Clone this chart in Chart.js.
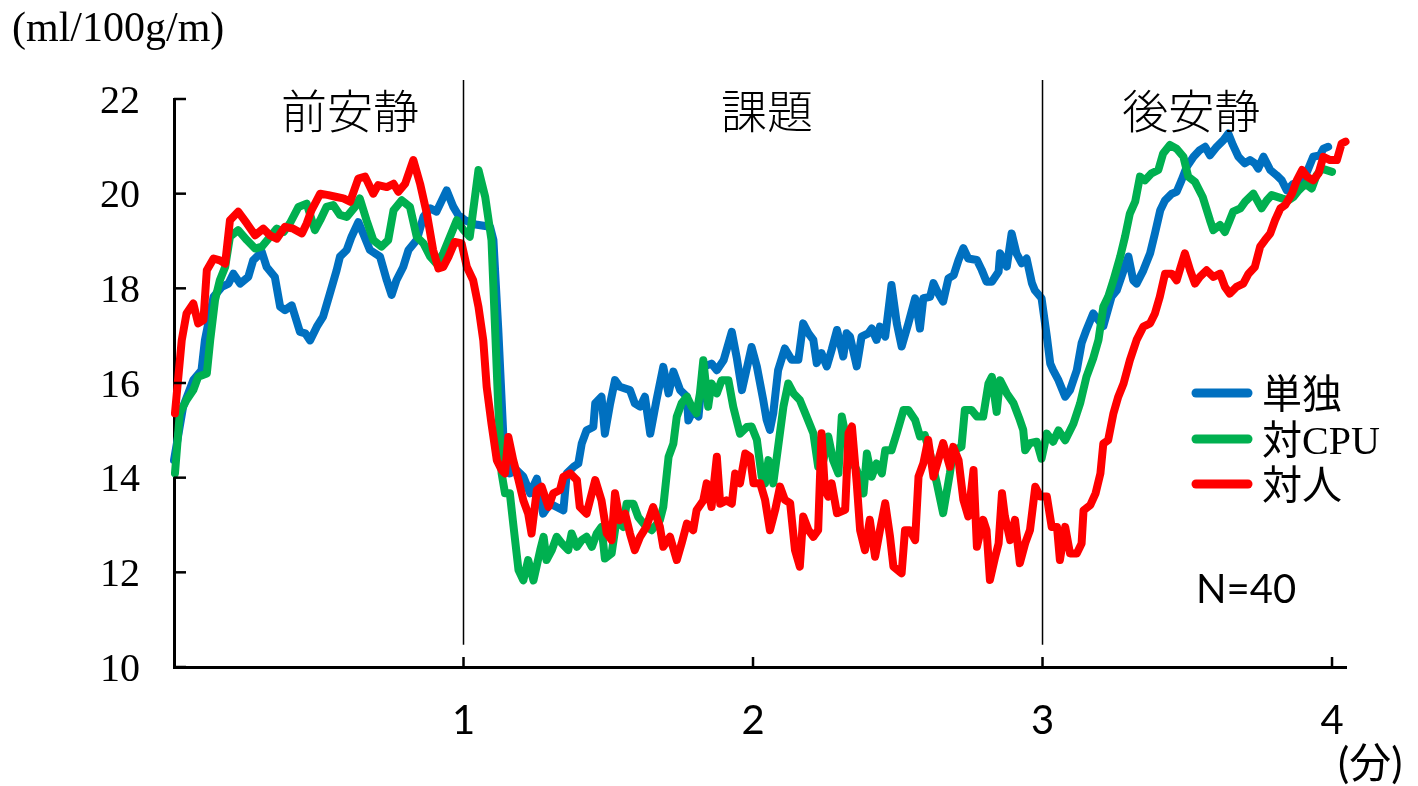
<!DOCTYPE html>
<html lang="ja">
<head>
<meta charset="UTF-8">
<title>血流量の推移</title>
<script src="https://cdn.jsdelivr.net/npm/chart.js@4"></script>
<style>
  body { margin: 0; background: #fff; }
  canvas { display: block; }
</style>
</head>
<body>
<canvas id="flowChart" width="1418" height="786"></canvas>
<script>
// [経過秒, ml/100g/m]
const soloPts = [[0,14.37],[1.9,15.50],[4.0,16.06],[5.7,16.27],[6.4,16.90],[8.2,17.82],[9.9,18.03],[11.3,18.10],[12.3,18.31],[13.7,18.10],[15.4,18.24],[16.4,18.59],[18.2,18.77],[19.2,18.45],[20.9,18.24],[22.0,17.61],[23.0,17.54],[24.4,17.64],[26.1,17.08],[27.2,17.05],[28.2,16.90],[29.6,17.19],[30.9,17.40],[32.3,17.89],[33.7,18.38],[34.4,18.67],[35.8,18.81],[36.8,19.09],[38.2,19.40],[39.2,19.16],[40.6,18.81],[42.7,18.67],[44.1,18.17],[45.1,17.86],[46.1,18.17],[47.5,18.45],[48.6,18.81],[50.3,19.02],[51.7,19.51],[53.1,19.69],[54.4,19.62],[56.5,20.07],[57.9,19.72],[58.9,19.55],[60.3,19.44],[62.5,19.35],[65.5,19.30],[66.2,19.02],[67.2,17.15],[68.3,14.79],[69.6,14.09],[71.0,14.16],[72.4,14.02],[73.8,13.67],[75.2,13.98],[76.5,13.24],[77.9,13.45],[79.3,13.38],[80.7,13.31],[81.4,14.09],[82.8,14.23],[83.8,14.30],[84.5,14.72],[85.5,15.00],[86.9,15.07],[87.3,15.57],[88.6,15.71],[89.3,14.93],[90.4,15.57],[91.4,16.06],[92.4,15.92],[94.5,15.85],[95.5,15.57],[96.6,15.50],[97.6,15.71],[98.7,14.93],[100.0,15.64],[101.4,16.34],[102.5,15.78],[103.5,16.24],[104.9,15.85],[106.3,15.71],[106.6,15.21],[107.6,15.43],[108.7,15.29],[109.7,16.34],[111.4,16.41],[112.5,16.27],[113.9,16.48],[115.6,17.08],[116.6,16.55],[117.7,15.85],[119.7,16.76],[120.8,16.35],[122.1,15.65],[122.8,15.23],[123.5,15.01],[124.2,15.36],[125.2,16.27],[126.6,16.73],[128.0,16.49],[129.4,16.49],[130.4,17.26],[131.5,17.05],[132.5,16.91],[133.2,16.42],[134.2,16.63],[135.3,16.35],[136.3,16.70],[137.4,17.12],[138.7,16.56],[139.4,17.05],[140.1,16.98],[141.5,16.35],[142.5,16.98],[143.9,17.05],[144.6,17.15],[145.6,16.91],[146.3,17.19],[147.4,16.98],[148.7,18.07],[149.8,17.26],[150.8,16.77],[152.2,17.26],[153.6,17.79],[154.6,17.15],[155.3,17.79],[156.7,17.82],[157.4,18.11],[158.4,17.89],[159.4,17.72],[160.5,18.21],[161.6,18.28],[162.6,18.60],[163.6,18.85],[164.6,18.63],[166.4,18.60],[167.4,18.39],[168.4,18.14],[169.5,18.14],[170.9,18.35],[171.2,18.74],[172.6,18.46],[173.6,19.16],[174.6,18.74],[175.7,18.53],[176.7,18.63],[177.8,18.11],[178.4,17.96],[179.8,17.79],[180.9,16.98],[181.6,16.41],[182.2,16.27],[183.3,16.06],[184.7,15.71],[185.7,15.85],[187.1,16.27],[188.1,16.84],[189.1,17.12],[190.5,17.47],[192.6,17.20],[194.3,17.82],[195.4,17.96],[196.8,18.38],[197.8,18.67],[198.8,18.17],[199.5,18.10],[200.9,18.38],[202.3,18.74],[203.3,19.16],[204.4,19.65],[205.4,19.86],[206.8,20.00],[207.8,20.04],[208.8,20.28],[209.9,20.57],[211.3,20.78],[212.6,20.92],[213.7,20.99],[214.7,20.81],[216.1,20.99],[217.5,21.13],[218.5,21.27],[219.5,21.02],[220.6,20.78],[221.9,20.64],[223.0,20.71],[224.0,20.64],[224.7,20.53],[225.8,20.78],[227.2,20.50],[228.5,20.39],[229.6,20.28],[230.6,20.07],[232.0,20.21],[233.4,20.25],[234.7,20.43],[236.1,20.78],[237.5,20.81],[238.2,20.95],[239.2,20.99]];

const cpuPts = [[0.2,14.09],[1.2,15.36],[2.6,15.64],[4.0,15.85],[5.0,16.13],[6.8,16.20],[7.5,16.90],[8.5,17.75],[9.5,18.17],[10.6,18.45],[11.6,19.09],[13.3,19.23],[15.1,19.02],[16.8,18.84],[18.2,18.88],[19.9,19.09],[21.3,19.26],[22.7,19.19],[24.0,19.37],[25.8,19.72],[27.5,19.79],[29.2,19.23],[30.3,19.44],[31.6,19.72],[33.0,19.76],[34.4,19.55],[35.8,19.51],[37.5,19.72],[38.5,19.90],[39.9,19.44],[41.3,19.02],[43.0,18.88],[44.4,19.02],[45.5,19.65],[47.2,19.86],[48.9,19.72],[50.3,19.09],[51.7,18.95],[53.1,18.67],[54.4,18.52],[55.8,18.74],[57.2,19.09],[58.6,19.44],[60.0,19.23],[61.3,19.09],[63.1,20.50],[64.5,19.93],[65.8,19.02],[66.5,17.26],[67.2,15.50],[67.9,14.09],[68.6,13.67],[69.6,13.67],[70.3,13.03],[71.4,12.05],[72.4,11.83],[73.4,12.26],[74.5,11.83],[75.9,12.47],[76.6,12.75],[77.2,12.26],[78.3,12.47],[79.3,12.75],[80.4,12.61],[81.7,12.47],[82.4,12.82],[83.5,12.54],[84.5,12.68],[85.5,12.75],[86.6,12.54],[87.6,12.82],[88.6,12.96],[89.3,12.29],[90.7,12.40],[91.7,13.10],[93.1,12.96],[93.8,13.45],[95.2,13.45],[96.2,13.17],[97.3,13.03],[99.0,12.89],[100.7,13.10],[101.4,13.38],[102.5,14.44],[103.5,14.72],[104.2,15.29],[105.2,15.57],[106.3,15.71],[107.3,15.50],[108.3,15.36],[109.0,15.78],[109.7,16.48],[110.7,15.50],[111.4,15.99],[112.5,15.78],[113.5,16.06],[114.9,16.06],[115.9,15.50],[117.3,14.93],[118.7,15.07],[119.7,15.08],[120.8,14.80],[121.8,14.02],[122.5,13.88],[123.2,14.37],[124.2,13.88],[125.2,14.65],[126.3,15.50],[127.3,15.99],[128.4,15.78],[129.7,15.64],[131.1,15.29],[132.5,14.94],[133.5,14.23],[134.6,14.37],[135.6,14.87],[136.6,14.37],[137.7,14.09],[138.4,15.29],[139.1,14.94],[140.4,14.37],[141.5,14.16],[142.9,13.67],[143.6,14.51],[144.6,14.02],[145.6,14.30],[146.7,14.09],[147.4,14.58],[148.7,14.58],[149.8,14.94],[151.2,15.43],[152.2,15.43],[153.6,15.22],[154.6,14.87],[155.6,14.90],[156.7,14.51],[158.1,13.88],[159.4,13.25],[160.8,14.09],[161.5,14.58],[163.2,14.65],[163.9,15.43],[165.3,15.43],[166.4,15.29],[167.7,15.29],[168.8,15.99],[169.5,16.13],[170.5,15.39],[171.2,16.06],[172.6,15.78],[174.0,15.57],[175.3,15.22],[176.0,15.01],[176.4,14.58],[177.4,14.73],[178.8,14.76],[179.8,14.40],[180.9,14.93],[182.2,14.76],[183.3,15.00],[184.7,14.79],[186.4,15.14],[187.8,15.57],[189.1,16.13],[190.5,16.52],[191.6,16.91],[192.6,17.61],[193.6,17.82],[194.7,18.17],[196.1,18.67],[197.1,19.09],[198.1,19.58],[199.2,19.83],[200.2,20.36],[201.2,20.28],[202.6,20.43],[204.0,20.50],[205.0,20.85],[206.4,21.03],[207.8,20.95],[209.2,20.78],[210.2,20.36],[211.6,20.25],[213.2,19.93],[214.7,19.44],[215.4,19.23],[216.8,19.34],[217.8,19.19],[218.8,19.44],[219.5,19.62],[221.0,19.69],[222.0,19.83],[223.7,20.00],[225.4,19.69],[226.5,19.86],[227.5,19.97],[229.6,19.90],[231.0,19.86],[232.0,19.93],[233.1,20.07],[234.5,20.21],[235.8,20.11],[236.8,20.39],[237.9,20.53],[240.0,20.46]];

const humanPts = [[0.2,15.36],[1.6,16.90],[2.6,17.47],[4.0,17.68],[5.0,17.26],[6.1,17.33],[6.8,18.38],[8.2,18.63],[9.5,18.59],[10.6,18.52],[11.6,19.44],[13.3,19.62],[15.1,19.37],[16.8,19.12],[18.5,19.26],[19.9,19.12],[21.3,19.05],[23.0,19.30],[24.7,19.26],[26.5,19.16],[27.5,19.37],[28.5,19.65],[30.3,20.00],[32.0,19.97],[33.7,19.93],[35.1,19.90],[36.5,19.83],[38.2,20.32],[39.6,20.36],[41.3,20.00],[42.3,20.18],[44.1,20.14],[45.5,20.21],[46.5,20.04],[47.9,20.21],[49.6,20.71],[51.0,20.21],[52.4,19.58],[53.7,18.81],[54.8,18.42],[55.8,18.45],[56.9,18.67],[58.2,18.98],[59.6,18.95],[60.7,18.45],[62.0,18.17],[63.1,17.61],[64.1,16.90],[64.8,15.92],[65.8,15.14],[66.9,14.37],[67.9,14.16],[68.6,14.09],[69.3,14.86],[70.3,14.37],[71.4,13.95],[72.4,13.52],[73.4,13.24],[74.1,12.82],[75.2,13.74],[76.2,13.81],[77.6,13.38],[78.6,13.67],[80.0,13.74],[80.7,14.02],[82.1,14.09],[83.5,13.95],[84.1,13.38],[85.5,13.24],[87.3,13.95],[88.6,13.52],[89.7,12.82],[90.7,12.68],[91.4,13.67],[92.4,13.10],[93.5,13.24],[94.5,12.82],[95.5,12.47],[96.6,12.75],[97.9,12.96],[99.3,13.38],[100.7,12.96],[101.4,12.54],[102.8,12.75],[104.2,12.26],[105.2,12.61],[106.3,13.03],[107.6,12.89],[108.3,13.31],[109.7,13.52],[110.4,13.88],[111.4,13.38],[112.5,14.44],[113.2,13.45],[114.5,13.52],[115.6,13.45],[116.3,14.09],[117.3,13.88],[118.4,14.51],[119.4,14.44],[120.1,13.88],[121.5,13.88],[122.5,13.53],[123.5,12.89],[124.6,13.32],[125.6,13.81],[126.6,13.53],[127.7,13.46],[128.7,12.47],[129.7,12.12],[130.4,13.18],[131.5,12.89],[132.5,12.75],[133.5,12.89],[134.2,14.94],[134.9,13.74],[135.6,13.60],[136.3,13.88],[137.4,13.25],[139.1,13.32],[139.8,14.94],[140.5,15.08],[141.5,13.88],[142.2,12.89],[143.2,12.47],[144.2,13.11],[145.3,12.33],[146.3,12.89],[147.4,13.46],[148.4,12.75],[149.1,12.12],[150.8,11.98],[151.5,12.89],[152.5,12.89],[153.6,12.68],[154.3,14.02],[155.3,14.30],[156.3,14.80],[157.4,14.02],[158.4,14.37],[159.4,14.73],[160.8,14.23],[161.5,14.65],[162.6,14.37],[163.6,13.53],[164.6,13.18],[165.7,14.16],[166.4,12.54],[167.7,13.11],[168.4,12.89],[169.1,11.84],[170.2,12.33],[170.9,12.61],[171.6,13.67],[172.2,13.18],[173.3,12.68],[174.3,13.11],[175.3,12.19],[176.4,12.61],[177.4,12.89],[178.5,13.81],[179.5,13.60],[180.9,13.60],[181.9,12.96],[183.0,12.96],[183.6,12.26],[184.7,12.96],[185.7,12.40],[187.1,12.40],[188.1,12.61],[188.5,13.31],[189.9,13.42],[191.0,13.67],[192.0,14.09],[192.6,14.72],[193.6,14.79],[194.7,15.36],[195.7,15.71],[196.8,15.99],[198.1,16.48],[199.5,16.91],[200.9,17.19],[202.3,17.26],[203.3,17.47],[204.3,17.82],[205.4,18.31],[206.8,18.31],[207.8,18.17],[209.5,18.74],[210.6,18.38],[211.6,18.10],[212.6,18.24],[214.0,18.38],[215.4,18.24],[216.8,18.31],[217.8,18.03],[218.8,17.89],[220.2,18.03],[221.6,18.10],[222.7,18.31],[224.0,18.45],[225.1,18.88],[226.1,19.02],[227.2,19.16],[228.2,19.44],[229.3,19.69],[230.3,19.76],[231.7,20.00],[232.7,20.28],[233.8,20.50],[234.8,20.36],[236.1,20.28],[237.2,20.43],[238.2,20.78],[239.6,20.71],[241.0,20.71],[242.0,21.06],[242.8,21.10]];

const seriesNames = ['単独', '対CPU', '対人'];
const seriesColors = ['#0070C0', '#00B050', '#FF0000'];
const phaseNames = ['前安静', '課題', '後安静'];
const phaseBounds = [60, 180];      // 秒
const xTicks = [1, 2, 3, 4];        // 分
const yTicks = [10, 12, 14, 16, 18, 20, 22];

const SERIF = '"Liberation Serif", "Noto Sans CJK JP", serif';
const SANS = 'Lato, "Noto Sans CJK JP", sans-serif';

const toXY = pts => pts.map(([s, v]) => ({ x: s / 60, y: v }));

// 区間ラベル・区切り線・内向き目盛・凡例などの描き足し
const decor = {
  id: 'decor',
  afterDatasetsDraw(chart) {
    const { ctx, chartArea: area } = chart;
    const { x, y } = chart.scales;
    ctx.save();
    ctx.strokeStyle = '#000';
    ctx.fillStyle = '#000';

    // 目盛は内側向き
    ctx.lineWidth = 2.5;
    yTicks.forEach(v => {
      const py = y.getPixelForValue(v);
      ctx.beginPath();
      ctx.moveTo(area.left, py);
      ctx.lineTo(area.left + 12, py);
      ctx.stroke();
    });
    xTicks.forEach(v => {
      const px = x.getPixelForValue(v);
      ctx.beginPath();
      ctx.moveTo(px, area.bottom);
      ctx.lineTo(px, area.bottom - 10);
      ctx.stroke();
    });

    // 区間の境目
    ctx.lineWidth = 1.5;
    phaseBounds.forEach(s => {
      const px = x.getPixelForValue(s / 60);
      ctx.beginPath();
      ctx.moveTo(px, y.getPixelForValue(22.4));
      ctx.lineTo(px, y.getPixelForValue(10.47));
      ctx.stroke();
    });

    // 区間名
    const phaseAt = [36.5, 122.9, 210.8];
    ctx.font = '300 46px ' + SERIF;
    ctx.textAlign = 'center';
    ctx.textBaseline = 'middle';
    phaseNames.forEach((name, i) => {
      ctx.fillText(name, x.getPixelForValue(phaseAt[i] / 60), 116);
    });

    // 凡例
    ctx.lineCap = 'round';
    ctx.lineWidth = 9;
    ctx.font = '40px ' + SERIF;
    ctx.textAlign = 'left';
    const legendY = [393, 439, 484];
    seriesNames.forEach((name, i) => {
      ctx.strokeStyle = seriesColors[i];
      ctx.beginPath();
      ctx.moveTo(1196, legendY[i]);
      ctx.lineTo(1248, legendY[i]);
      ctx.stroke();
      ctx.fillText(name, 1262, legendY[i] + 4);
    });

    // 人数と単位
    ctx.font = '40px ' + SANS;
    ctx.fillText('N=40', 1196, 590);
    ctx.font = '42px ' + SANS;
    ctx.fillText('(分)', 1338, 764);
    ctx.font = '42px ' + SERIF;
    ctx.fillText('(ml/100g/m)', 12, 30);
    ctx.restore();
  }
};

new Chart(document.getElementById('flowChart'), {
  type: 'line',
  data: {
    datasets: [soloPts, cpuPts, humanPts].map((pts, i) => ({
      label: seriesNames[i],
      data: toXY(pts),
      borderColor: seriesColors[i],
      backgroundColor: seriesColors[i],
      order: 3 - i,
      clip: false
    }))
  },
  options: {
    responsive: false,
    animation: false,
    layout: { padding: { top: 99, right: 71.5, bottom: 0, left: 0 } },
    plugins: { legend: { display: false }, tooltip: { enabled: false } },
    elements: {
      point: { radius: 0 },
      line: { borderWidth: 8, tension: 0, borderJoinStyle: 'round', borderCapStyle: 'round' }
    },
    scales: {
      x: {
        type: 'linear',
        min: 0,
        max: 4.05,
        afterBuildTicks: s => { s.ticks = xTicks.map(v => ({ value: v })); },
        afterFit: s => { s.height = 119; },
        grid: { drawOnChartArea: false, drawTicks: false },
        border: { color: '#000', width: 3 },
        ticks: { padding: 30, color: '#000', maxRotation: 0, font: { family: SANS, size: 40 } }
      },
      y: {
        min: 10,
        max: 22,
        afterBuildTicks: s => { s.ticks = yTicks.map(v => ({ value: v })); },
        afterFit: s => { s.width = 174; },
        grid: { drawOnChartArea: false, drawTicks: false },
        border: { color: '#000', width: 3 },
        ticks: { padding: 34, labelOffset: 3, color: '#000', font: { family: SERIF, size: 40 } }
      }
    }
  },
  plugins: [decor]
});
</script>
</body>
</html>
